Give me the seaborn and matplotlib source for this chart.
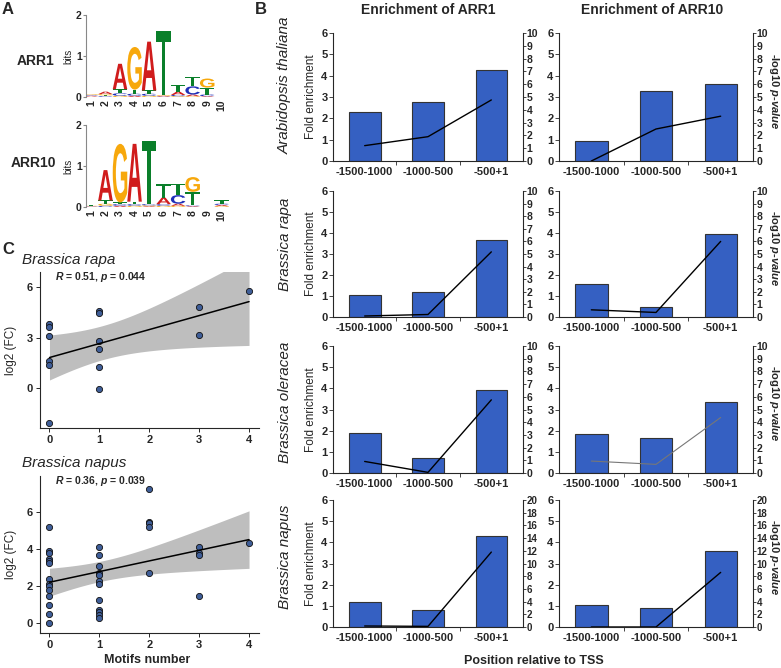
import numpy as np
import pandas as pd
import matplotlib
matplotlib.use("Agg")
import matplotlib.pyplot as plt
import seaborn as sns
import matplotlib.transforms as mtransforms
from matplotlib.textpath import TextPath
from matplotlib.patches import PathPatch
from matplotlib.font_manager import FontProperties

# ---- panel A : motif logos (bits per base, positions 1..10)
logo_pos = list(range(1, 11))
arr1_A = [0.02, 0.06, 0.62, 0.03, 1.19, 0.02, 0.08, 0.04, 0.02, 0.0]
arr1_C = [0.02, 0.02, 0.06, 0.05, 0.05, 0.01, 0.03, 0.20, 0.04, 0.0]
arr1_G = [0.02, 0.03, 0.03, 1.04, 0.03, 0.02, 0.02, 0.02, 0.22, 0.0]
arr1_T = [0.01, 0.02, 0.10, 0.10, 0.08, 1.55, 0.17, 0.24, 0.17, 0.0]
arr10_A = [0.01, 0.74, 0.03, 1.41, 0.02, 0.16, 0.05, 0.02, 0.0, 0.03]
arr10_C = [0.01, 0.03, 0.04, 0.04, 0.03, 0.04, 0.21, 0.02, 0.0, 0.03]
arr10_G = [0.01, 0.05, 1.43, 0.03, 0.02, 0.03, 0.03, 0.36, 0.0, 0.02]
arr10_T = [0.01, 0.08, 0.04, 0.06, 1.55, 0.34, 0.28, 0.33, 0.0, 0.09]

# ---- panel B : enrichment by promoter region
regions = ["-1500-1000", "-1000-500", "-500+1"]
species = ["Arabidopsis thaliana", "Brassica rapa", "Brassica oleracea", "Brassica napus"]
arr1_fold = [[2.30, 2.75, 4.27], [1.06, 1.19, 3.69], [1.87, 0.69, 3.91], [1.16, 0.79, 4.30]]
arr1_logp = [[1.2, 1.9, 4.77], [0.08, 0.2, 5.17], [0.91, 0.05, 5.76], [0.16, 0.1, 11.8]]
arr10_fold = [[0.95, 3.30, 3.60], [1.55, 0.48, 3.94], [1.82, 1.64, 3.37], [1.03, 0.92, 3.60]]
arr10_logp = [[0.0, 2.5, 3.5], [0.57, 0.36, 6.0], [0.94, 0.68, 4.37], [0.0, 0.0, 8.6]]
logp_max = [10, 10, 10, 20]

# ---- panel C : log2 FC vs number of motifs
rapa_motifs = [0, 0, 0, 0, 0, 0, 1, 1, 1, 1, 1, 1, 3, 3, 4]
rapa_fc = [3.79, 3.65, 3.11, 1.64, 1.36, -2.07, 4.57, 4.43, 2.80, 2.31, 1.28, -0.04, 4.79, 3.13, 5.77]
napus_motifs = [0] * 14 + [1] * 12 + [2] * 5 + [3] * 4 + [4]
napus_fc = [5.18, 3.86, 3.74, 3.43, 3.34, 3.20, 2.38, 2.08, 1.98, 1.79, 1.46, 0.94, 0.49, -0.02,
            4.10, 3.65, 3.07, 2.66, 2.56, 2.26, 2.08, 1.25, 0.70, 0.58, 0.40, 0.25,
            7.21, 5.45, 5.37, 5.15, 2.69,
            4.10, 3.79, 3.65, 1.43,
            4.31]
t975 = {13: 2.160, 34: 2.032}   # t quantiles for the 95% band (df = n - 2)

sns.set_style("ticks")
plt.rcParams['font.family'] = ['Liberation Sans', 'DejaVu Sans']
plt.rcParams['font.weight'] = 'bold'
plt.rcParams['mathtext.fontset'] = 'custom'
plt.rcParams['mathtext.rm'] = 'Liberation Sans:bold'
plt.rcParams['mathtext.it'] = 'Liberation Sans:italic:bold'

W, H = 781, 668
fig = plt.figure(figsize=(W / 100, H / 100), dpi=100)


def px_axes(l, t, r, b):
    return fig.add_axes([l / W, 1 - b / H, (r - l) / W, (b - t) / H])


def ftext(x, y, s, **kw):
    fig.text(x / W, 1 - y / H, s, **kw)


def bold_ticks(ax):
    for lab in ax.get_xticklabels() + ax.get_yticklabels():
        lab.set_fontweight("bold")


base_colors = {"A": "#D01C1C", "C": "#1F2FB8", "G": "#F7A80C", "T": "#0A7F2A"}
logo_font = FontProperties(family="Liberation Sans", weight="bold")


def draw_logo(ax, heights):
    for i, pos in enumerate(logo_pos):
        y0 = 0
        for b in sorted(heights, key=lambda k: heights[k][i]):
            h = heights[b][i]
            if h <= 0:
                continue
            tp = TextPath((0, 0), b, size=1, prop=logo_font)
            bb = tp.get_extents()
            tr = (mtransforms.Affine2D().translate(-bb.x0, -bb.y0)
                  .scale(1.0 / bb.width, h / bb.height)
                  .translate(pos - 0.5, y0))
            ax.add_patch(PathPatch(tr.transform_path(tp), fc=base_colors[b], ec="none"))
            y0 += h
    ax.set_xlim(0.66, 10.5)
    ax.set_ylim(0, 2)
    ax.set_yticks([0, 1, 2])
    ax.set_xticks(logo_pos)
    ax.set_xticklabels([str(p) for p in logo_pos], rotation=90, fontsize=7.5)
    ax.tick_params(axis="x", length=0, pad=2)
    ax.tick_params(axis="y", length=2, labelsize=7.5, pad=1, color="#888")
    for s in ["top", "right", "bottom"]:
        ax.spines[s].set_visible(False)
    ax.spines["left"].set_color("#888")
    ax.spines["left"].set_linewidth(0.8)
    ax.set_ylabel("bits", fontsize=7, fontweight="normal", labelpad=2)
    bold_ticks(ax)


ax = px_axes(86, 15, 229, 97)
draw_logo(ax, {"A": arr1_A, "C": arr1_C, "G": arr1_G, "T": arr1_T})
ax = px_axes(86, 125, 229, 207)
draw_logo(ax, {"A": arr10_A, "C": arr10_C, "G": arr10_G, "T": arr10_T})
ftext(36, 61, "ARR1", fontsize=10, ha="center", va="center")
ftext(33, 163, "ARR10", fontsize=10, ha="center", va="center")

# ---- panel B
bar_color = "#3560C2"
rows = [(33, 161), (191, 317), (346, 473), (500, 627)]
cols = [(333, 523), (559, 753)]
species_y = [85, 244, 402, 557]
for i, (t, b) in enumerate(rows):
    for j, (l, r) in enumerate(cols):
        fold = arr1_fold[i] if j == 0 else arr10_fold[i]
        logp = arr1_logp[i] if j == 0 else arr10_logp[i]
        ax = px_axes(l, t, r, b)
        sns.barplot(x=regions, y=fold, ax=ax, color=bar_color, saturation=1,
                    width=0.5, edgecolor="#333", linewidth=0.8)
        ax.set_xlim(-0.5, 2.5)
        ax.set_ylim(0, 6)
        ax.set_yticks(range(7))
        ax.set_xticks([0.5, 1.5], minor=True)
        ax.tick_params(axis="x", which="major", length=0, labelsize=8, pad=4)
        ax.tick_params(axis="x", which="minor", length=3, width=0.6)
        ax.tick_params(axis="y", length=3, width=0.6, labelsize=8, pad=1)
        ax.spines["top"].set_visible(False)
        ax.spines["right"].set_visible(False)
        for s in ["left", "bottom"]:
            ax.spines[s].set_linewidth(0.8)
        if j == 0:
            ax.set_ylabel("Fold enrichment", fontsize=8.5, fontweight="normal", labelpad=3)
        bold_ticks(ax)
        ax2 = ax.twinx()
        lc, lw = ("#777", 0.8) if (i == 2 and j == 1) else ("black", 1.0)
        ax2.plot(range(3), logp, color=lc, lw=lw)
        ax2.set_ylim(0, logp_max[i])
        ax2.set_yticks(range(0, logp_max[i] + 1, logp_max[i] // 10))
        ax2.tick_params(axis="y", length=2, width=0.6, labelsize=7 if logp_max[i] > 10 else 7.5,
                        pad=0.5)
        for s in ["top", "left", "bottom"]:
            ax2.spines[s].set_visible(False)
        ax2.spines["right"].set_linewidth(0.8)
        bold_ticks(ax2)
    ftext(285, species_y[i], species[i], fontsize=11, fontstyle="italic",
          fontweight="normal", rotation=90, ha="center", va="center")
    ftext(774, (t + b) / 2 - 6, "-log10 $\\it{p}$-$\\it{value}$", fontsize=8,
          rotation=270, ha="center", va="center")

ftext(428, 10, "Enrichment of ARR1", fontsize=10, ha="center", va="center")
ftext(652, 10, "Enrichment of ARR10", fontsize=10, ha="center", va="center")
ftext(534, 661, "Position relative to TSS", fontsize=9, ha="center", va="center")

# ---- panel C
pt_color = "#3F5E98"


def scatter_panel(ax, motifs, fc, ylim, yticks, r_text, title):
    df = pd.DataFrame({"motifs": motifs, "fc": fc})
    sns.regplot(data=df, x="motifs", y="fc", ax=ax, ci=None,
                scatter_kws=dict(s=20, color=pt_color, edgecolor="#111", linewidths=0.6,
                                 alpha=1, zorder=3),
                line_kws=dict(color="black", lw=1.1, zorder=4))
    # 95% confidence band of the linear fit
    x = np.asarray(motifs, float)
    y = np.asarray(fc, float)
    n = len(x)
    slope, icpt = np.polyfit(x, y, 1)
    s = np.sqrt(np.sum((y - (icpt + slope * x)) ** 2) / (n - 2))
    grid = np.linspace(x.min(), x.max(), 100)
    se = s * np.sqrt(1 / n + (grid - x.mean()) ** 2 / np.sum((x - x.mean()) ** 2))
    fit = icpt + slope * grid
    ax.fill_between(grid, fit - t975[n - 2] * se, fit + t975[n - 2] * se,
                    color="#BEBEBE", lw=0, zorder=2)
    ax.set_xlim(-0.19, 4.2)
    ax.set_ylim(*ylim)
    ax.set_xticks(range(5))
    ax.set_yticks(yticks)
    ax.tick_params(length=3, width=0.7, labelsize=8, pad=2)
    ax.spines["top"].set_visible(False)
    ax.spines["right"].set_visible(False)
    ax.set_ylabel("log2 (FC)", fontsize=8.5)
    ax.yaxis.set_label_coords(-0.105, 0.5)
    ax.set_xlabel("")
    bold_ticks(ax)
    ax.text(0.07, 0.97, r_text, transform=ax.transAxes, fontsize=7.5, va="center")
    ax.text(-0.08, 1.08, title, transform=ax.transAxes, fontsize=11,
            fontstyle="italic", fontweight="normal", va="center")


ax = px_axes(40, 272, 259, 428)
scatter_panel(ax, rapa_motifs, rapa_fc, (-2.35, 6.88), [0, 3, 6],
              "$\\it{R}$ = 0.51, $\\it{p}$ = 0.044", "Brassica rapa")
ax = px_axes(40, 476, 259, 633)
scatter_panel(ax, napus_motifs, napus_fc, (-0.56, 7.93), [0, 2, 4, 6],
              "$\\it{R}$ = 0.36, $\\it{p}$ = 0.039", "Brassica napus")
ftext(147, 660, "Motifs number", fontsize=9, ha="center", va="center")

ftext(8, 10, "A", fontsize=12, ha="center", va="center")
ftext(261, 10, "B", fontsize=12, ha="center", va="center")
ftext(8, 249, "C", fontsize=12, ha="center", va="center")

fig.savefig("out.png", dpi=100)
